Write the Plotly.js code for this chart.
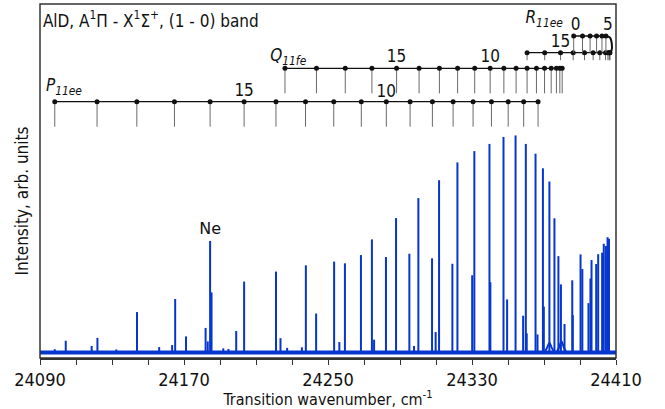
<!DOCTYPE html>
<html>
<head>
<meta charset="utf-8">
<script src="https://cdn.plot.ly/plotly-3.0.1.min.js"></script>
<style>html,body{margin:0;padding:0;background:#fff;}#chart{width:665px;height:409px;}</style>
</head>
<body>
<div id="chart"></div>
<script>
// ---- data ----
const TICK_VALS = [24090, 24170, 24250, 24330, 24410];
const TICK_TEXT = ['24090', '24170', '24250', '24330', '24410'];

// spectrum lines: wavenumber (cm-1) and intensity (arb. units)
const PEAK_WN = [24098.2, 24104.3, 24118.7, 24121.9, 24132.4, 24143.9, 24156.2, 24163.4, 24165.1, 24171.1,
  24182.0, 24183.2, 24184.5, 24185.3, 24191.8, 24194.7, 24199.0, 24203.4, 24221.1, 24223.6,
  24227.3, 24235.5, 24237.7, 24243.4, 24253.4, 24256.3, 24259.4, 24268.3, 24274.4, 24275.6,
  24282.2, 24287.8, 24295.2, 24297.8, 24300.2, 24307.8, 24309.8, 24311.7, 24319.1, 24321.9,
  24330.1, 24331.3, 24339.7, 24340.2, 24347.5, 24349.5, 24354.2, 24358.4, 24359.9, 24360.4,
  24365.3, 24366.4, 24369.4, 24369.9, 24373.0, 24375.8, 24378.0, 24379.4, 24381.4, 24385.7,
  24386.0, 24390.3, 24391.3, 24394.7, 24395.8, 24396.4, 24399.0, 24400.1, 24402.3, 24403.2,
  24404.4, 24405.3, 24406.1];
const PEAK_INT = [0.015, 0.054, 0.030, 0.067, 0.014, 0.186, 0.025, 0.034, 0.246, 0.074,
  0.113, 0.051, 0.513, 0.276, 0.019, 0.016, 0.099, 0.326, 0.372, 0.066,
  0.021, 0.024, 0.401, 0.179, 0.418, 0.048, 0.410, 0.448, 0.520, 0.059,
  0.439, 0.618, 0.454, 0.030, 0.710, 0.433, 0.094, 0.792, 0.408, 0.874,
  0.355, 0.926, 0.959, 0.323, 0.991, 0.244, 0.998, 0.169, 0.959, 0.088,
  0.914, 0.083, 0.847, 0.211, 0.786, 0.617, 0.443, 0.313, 0.131, 0.332,
  0.172, 0.451, 0.384, 0.227, 0.340, 0.425, 0.407, 0.452, 0.459, 0.500,
  0.490, 0.530, 0.523];

// two broad features
const HUMP1_WN = [24370.2, 24371.6, 24373.0, 24374.4, 24375.8];
const HUMP1_INT = [0.0, 0.02, 0.045, 0.02, 0.0];
const HUMP2_WN = [24376.9, 24378.3, 24379.7, 24381.1, 24382.5];
const HUMP2_INT = [0.0, 0.022, 0.05, 0.022, 0.0];

const NE_WN = 24184.5, NE_INT = 0.513;

// line assignments
const P_J = [20, 19, 18, 17, 16, 15, 14, 13, 12, 11, 10, 9, 8, 7, 6, 5, 4, 3, 2];
const P_WN = [24098.2, 24121.7, 24143.8, 24164.7, 24184.5, 24203.4, 24221.1, 24237.5, 24253.2, 24268.5,
  24282.4, 24295.6, 24308.0, 24319.5, 24330.6, 24340.8, 24350.1, 24358.7, 24366.7];
const Q_J = [19, 18, 17, 16, 15, 14, 13, 12, 11, 10, 9, 8, 7, 6, 5, 4, 3, 2, 1];
const Q_WN = [24226.1, 24243.6, 24259.6, 24274.4, 24288.1, 24300.6, 24311.9, 24322.0, 24331.5, 24340.1,
  24347.7, 24354.5, 24360.6, 24365.8, 24370.3, 24374.0, 24376.9, 24378.8, 24380.1];
const R_UP_J = [0, 1, 2, 3, 4, 5];
const R_UP_WN = [24386.5, 24391.4, 24395.6, 24399.2, 24402.2, 24404.4];
const R_LOW_J = [6, 7, 8, 9, 10, 11, 12, 13, 14, 15, 16, 17];
const R_LOW_WN = [24406.6, 24406.5, 24406.2, 24405.5, 24404.2, 24401.0, 24397.3, 24392.5, 24386.2, 24379.2, 24370.4, 24360.6];
const R_HEAD_WN = [24404.4, 24406.6, 24407.7, 24407.5, 24406.6];

// ---- layout constants (positions/styles) ----
const FONT = 'DejaVu Sans Condensed, DejaVu Sans, sans-serif';
const BLUE = '#0636cf';
const INK = '#111';
const LVL = {P: 256.3, Q: 289.7, RL: 305.3, RU: 322};
const TICKLEN = {P: 25, Q: 25, RL: 7.5};

function sticks(xs, ys, base) {
  const x = [], y = [];
  xs.forEach((v, i) => { x.push(v, v, null); y.push(base, ys[i], null); });
  return {x, y};
}
function ladderTicks(xs, top, bottom) {
  const x = [], y = [];
  xs.forEach(v => { x.push(v, v, null); y.push(top, bottom, null); });
  return {x, y};
}

const traces = [];
// baseline
traces.push({x: [24090, 24410], y: [0, 0], mode: 'lines', line: {color: BLUE, width: 4}, hoverinfo: 'skip', showlegend: false});
// humps
traces.push({x: HUMP1_WN, y: HUMP1_INT, mode: 'lines', line: {color: BLUE, width: 2, shape: 'spline'}, showlegend: false});
traces.push({x: HUMP2_WN, y: HUMP2_INT, mode: 'lines', line: {color: BLUE, width: 2, shape: 'spline'}, showlegend: false});
// peaks
const pk = sticks(PEAK_WN, PEAK_INT, 0);
traces.push({x: pk.x, y: pk.y, mode: 'lines', line: {color: BLUE, width: 2}, showlegend: false, connectgaps: false});
// Ne label
traces.push({x: [NE_WN], y: [NE_INT + 0.012], mode: 'text', text: ['Ne'], textposition: 'top center',
  textfont: {family: 'DejaVu Sans', size: 16, color: INK}, showlegend: false});

// ladders (on the upper axis y2)
function addLadder(wn, level, bottom) {
  const t = ladderTicks(wn, level, bottom);
  traces.push({x: t.x, y: t.y, yaxis: 'y2', mode: 'lines', line: {color: '#6a6a6a', width: 1}, showlegend: false});
  traces.push({x: wn, y: wn.map(() => level), yaxis: 'y2', mode: 'lines+markers',
    line: {color: INK, width: 1.3}, marker: {color: INK, size: 5}, showlegend: false});
}
addLadder(P_WN, LVL.P, LVL.P - TICKLEN.P);
addLadder(Q_WN, LVL.Q, LVL.Q - TICKLEN.Q);
addLadder(R_LOW_WN, LVL.RL, LVL.RL - TICKLEN.RL);
addLadder(R_UP_WN, LVL.RU, LVL.RL);
traces.push({x: R_HEAD_WN, y: [LVL.RU, LVL.RU - 1.5, (LVL.RU + LVL.RL) / 2, LVL.RL + 2, LVL.RL], yaxis: 'y2',
  mode: 'lines', line: {color: INK, width: 2, shape: 'spline'}, showlegend: false});

// ladder labels as text marks
const numX = [P_WN[P_J.indexOf(15)], P_WN[P_J.indexOf(10)], Q_WN[Q_J.indexOf(15)], Q_WN[Q_J.indexOf(10)],
  R_LOW_WN[R_LOW_J.indexOf(15)], 24387.5, 24405.5];
const numY = [266.5, 265.5, 300.5, 300.5, 315.5, 332.7, 332.7];
const numT = ['15', '10', '15', '10', '15', '0', '5'];
traces.push({x: numX, y: numY, yaxis: 'y2', mode: 'text', text: numT, textposition: 'middle center',
  textfont: {family: FONT, size: 17, color: INK}, showlegend: false});
traces.push({x: [24093.3, 24217.9, 24359.7], y: [271, 301, 339], yaxis: 'y2', mode: 'text',
  text: ['<i>P</i><sub><i>11ee</i></sub>', '<i>Q</i><sub><i>11fe</i></sub>', '<i>R</i><sub><i>11ee</i></sub>'],
  textposition: 'middle right', textfont: {family: FONT, size: 17, color: INK}, showlegend: false});

const layout = {
  width: 665, height: 409,
  margin: {l: 40, r: 49, t: 4, b: 51, pad: 0},
  paper_bgcolor: '#fff', plot_bgcolor: 'rgba(0,0,0,0)',
  font: {family: FONT, size: 17, color: INK},
  showlegend: false,
  title: {text: 'AlD, A<sup>1</sup>Π - X<sup>1</sup>Σ<sup>+</sup>, (1 - 0) band', font: {family: FONT, size: 17, color: INK},
    xref: 'paper', yref: 'paper', x: 0.005, xanchor: 'left', y: 0.953, yanchor: 'middle'},
  xaxis: {range: [24090, 24410], showline: true, linecolor: '#333', linewidth: 1.5, mirror: false,
    ticks: 'outside', ticklen: 5, tickwidth: 1.2, tickcolor: '#333', tickvals: TICK_VALS, ticktext: TICK_TEXT,
    tickfont: {family: FONT, size: 18, color: INK},
    minor: {dtick: 20, tick0: 24090, ticks: 'outside', ticklen: 5, tickwidth: 1.2, tickcolor: '#333'},
    title: {text: 'Transition wavenumber, cm<sup>-1</sup>', font: {family: FONT, size: 16, color: INK}, standoff: 2},
    showgrid: false, zeroline: false},
  yaxis: {domain: [0, 0.887], range: [-0.0253, 1.4184], showline: false,
    ticks: '', showticklabels: false, showgrid: false, zeroline: false,
    title: {text: 'Intensity, arb. units', font: {family: FONT, size: 17, color: INK}, standoff: 6}},
  yaxis2: {domain: [0, 1], anchor: 'x', range: [0, 354], visible: false, showgrid: false, zeroline: false},
  shapes: [{type: 'rect', xref: 'paper', yref: 'paper', x0: 0, x1: 1, y0: 0, y1: 1,
    line: {color: '#333', width: 1.5}, fillcolor: 'rgba(0,0,0,0)', layer: 'above'}]
};

Plotly.newPlot('chart', traces, layout, {displayModeBar: false});
</script>
</body>
</html>
